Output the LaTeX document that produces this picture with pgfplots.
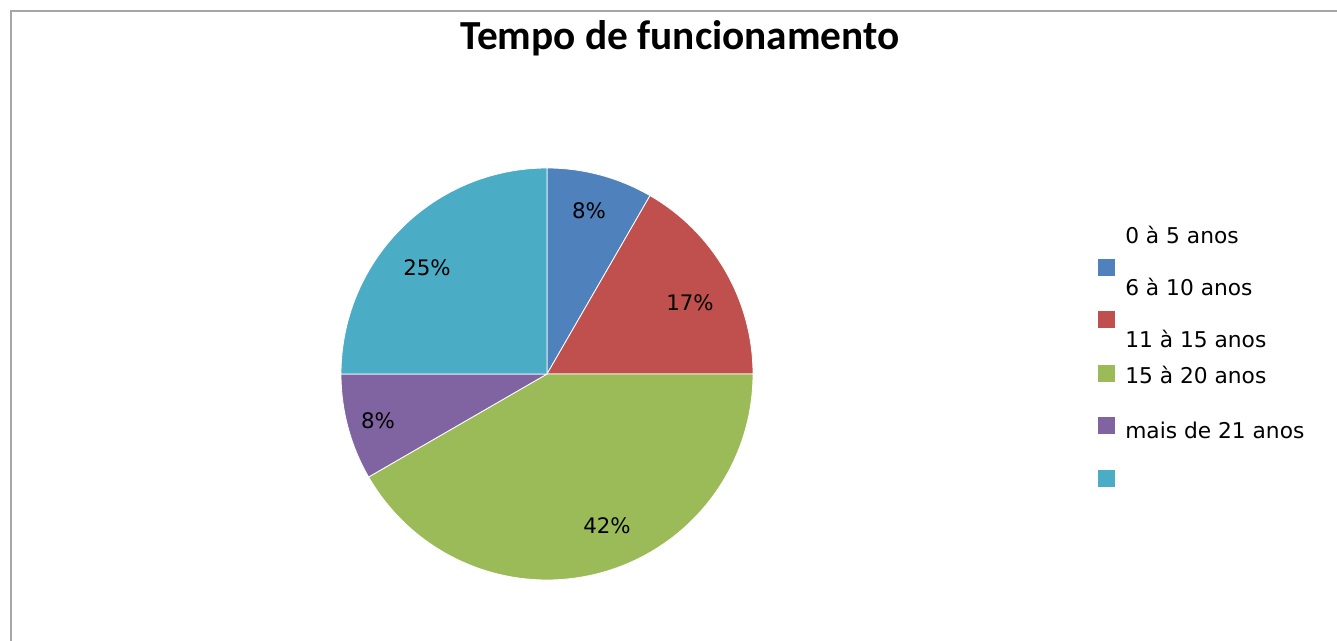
\documentclass[border=0pt]{standalone}
\usepackage{pgfplots}
\usepackage{pgfplotstable}
\pgfplotsset{compat=1.18}
\usepackage{fontspec}
\setmainfont{DejaVu Sans}
\newfontfamily\titlefont{Carlito}
\definecolor{cA}{HTML}{4F81BD}
\definecolor{cB}{HTML}{C0504D}
\definecolor{cC}{HTML}{9BBB59}
\definecolor{cD}{HTML}{8064A2}
\definecolor{cE}{HTML}{4BACC6}
\definecolor{frame}{HTML}{A6A6A6}

% slice values (counts), clockwise from 12 o'clock
\pgfplotstableread{
value
1
2
5
1
3
}\piedata

\pgfplotstablegetelem{0}{value}\of\piedata \let\vA\pgfplotsretval
\pgfplotstablegetelem{1}{value}\of\piedata \let\vB\pgfplotsretval
\pgfplotstablegetelem{2}{value}\of\piedata \let\vC\pgfplotsretval
\pgfplotstablegetelem{3}{value}\of\piedata \let\vD\pgfplotsretval
\pgfplotstablegetelem{4}{value}\of\piedata \let\vE\pgfplotsretval
\pgfmathsetmacro\tot{\vA+\vB+\vC+\vD+\vE}
\pgfmathsetmacro\aA{90}
\pgfmathsetmacro\aB{\aA-360*\vA/\tot}
\pgfmathsetmacro\aC{\aB-360*\vB/\tot}
\pgfmathsetmacro\aD{\aC-360*\vC/\tot}
\pgfmathsetmacro\aE{\aD-360*\vD/\tot}
\pgfmathsetmacro\aF{\aE-360*\vE/\tot}

\def\cx{547}
\def\cy{267}
\def\R{206}

\begin{document}
\begin{tikzpicture}
\begin{axis}[
  at={(0,0)}, anchor=south west,
  scale only axis, hide axis,
  x=0.75pt, y=0.75pt,
  xmin=0, xmax=1337, ymin=0, ymax=641,
  clip=false,
]
% full canvas
\path[use as bounding box] (axis cs:0,0) rectangle (axis cs:1337,641);
% frame (top and left lines)
\draw[frame, line width=1.8pt] (axis cs:11,-5) -- (axis cs:11,630) -- (axis cs:1345,630);

% pie slices
\addplot[fill=cA, draw=white, line width=0.6pt, domain=\aB:\aA, samples=40, variable=\t]
  ({\cx+\R*cos(\t)},{\cy+\R*sin(\t)}) -- (axis cs:\cx,\cy) -- cycle;
\addplot[fill=cB, draw=white, line width=0.6pt, domain=\aC:\aB, samples=60, variable=\t]
  ({\cx+\R*cos(\t)},{\cy+\R*sin(\t)}) -- (axis cs:\cx,\cy) -- cycle;
\addplot[fill=cC, draw=white, line width=0.6pt, domain=\aD:\aC, samples=120, variable=\t]
  ({\cx+\R*cos(\t)},{\cy+\R*sin(\t)}) -- (axis cs:\cx,\cy) -- cycle;
\addplot[fill=cD, draw=white, line width=0.6pt, domain=\aE:\aD, samples=40, variable=\t]
  ({\cx+\R*cos(\t)},{\cy+\R*sin(\t)}) -- (axis cs:\cx,\cy) -- cycle;
\addplot[fill=cE, draw=white, line width=0.6pt, domain=\aF:\aE, samples=80, variable=\t]
  ({\cx+\R*cos(\t)},{\cy+\R*sin(\t)}) -- (axis cs:\cx,\cy) -- cycle;

% percentage labels
\begin{scope}[every node/.style={font=\fontsize{16}{18}\selectfont, inner sep=0pt}]
\node at (axis cs:589,430) {8\%};
\node at (axis cs:690,338) {17\%};
\node at (axis cs:607,115) {42\%};
\node at (axis cs:378,220) {8\%};
\node at (axis cs:427,373) {25\%};
\end{scope}

% title
\node[font=\titlefont\bfseries\fontsize{31}{34}\selectfont, anchor=base, inner sep=0pt]
  at (axis cs:680,591) {Tempo de funcionamento};

% legend (markers and texts as in the reference)
\begin{scope}[every node/.style={inner sep=0pt}]
\fill[cA] (axis cs:1098,365) rectangle (axis cs:1115,382);
\fill[cB] (axis cs:1098,313) rectangle (axis cs:1115,330);
\fill[cC] (axis cs:1098,259) rectangle (axis cs:1115,276);
\fill[cD] (axis cs:1098,207) rectangle (axis cs:1115,224);
\fill[cE] (axis cs:1098,154) rectangle (axis cs:1115,171);
\node[anchor=base west, font=\fontsize{16.3}{18}\selectfont] at (axis cs:1125,397) {0 à 5 anos};
\node[anchor=base west, font=\fontsize{16.3}{18}\selectfont] at (axis cs:1125,345) {6 à 10 anos};
\node[anchor=base west, font=\fontsize{16.3}{18}\selectfont] at (axis cs:1125,293) {11 à 15 anos};
\node[anchor=base west, font=\fontsize{16.3}{18}\selectfont] at (axis cs:1125,257) {15 à 20 anos};
\node[anchor=base west, font=\fontsize{16.3}{18}\selectfont] at (axis cs:1125,202) {mais de 21 anos};
\end{scope}
\end{axis}
\end{tikzpicture}
\end{document}
